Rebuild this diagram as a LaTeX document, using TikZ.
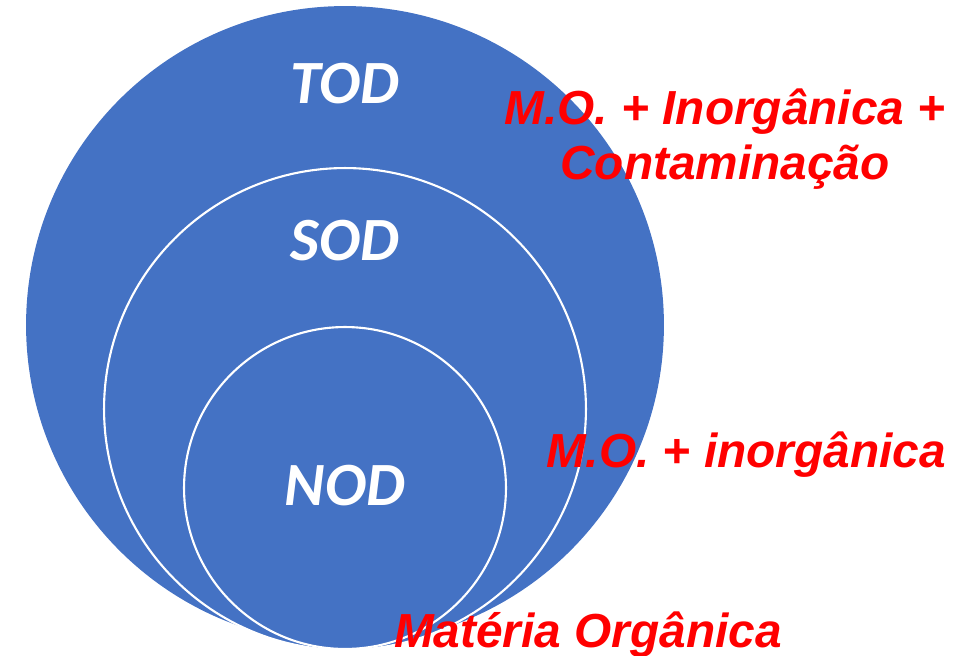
\documentclass[tikz,border=0pt]{standalone}
\usepackage{fontspec}
\setmainfont{Liberation Sans}
\newfontfamily\calibri{Carlito}
\usetikzlibrary{positioning}
\definecolor{dqoblue}{HTML}{4472C4}
\definecolor{dqored}{HTML}{FF0000}
\tikzstyle{disc} = [circle,
                    inner sep=0pt,
                    fill=dqoblue]
\tikzstyle{ring} = [circle,
                    inner sep=0pt,
                    fill=dqoblue,
                    draw=white,
                    line width=1.2pt]
\tikzstyle{tag} = [text=white,
                   anchor=base,
                   font=\calibri\bfseries\itshape\fontsize{35}{40}\selectfont]
\tikzstyle{note} = [text=dqored,
                    align=center,
                    inner sep=0pt,
                    font=\bfseries\itshape\fontsize{27.2}{31.5}\selectfont]

\begin{document}
\begin{tikzpicture}[x=0.02cm, y=-0.02cm]
  \useasboundingbox (0,0) rectangle (965,656);
  % circles
  \node [disc, minimum size=12.76cm] (tod) at (345,325) {};
  \node [ring, minimum size=9.64cm] (sod) at (345,409) {};
  \node [ring, minimum size=6.44cm] (nod) at (345,488) {};
  % names
  \node [tag] (todname) at (345,103) {TOD};
  \node [tag] (sodname) at (345,260) {SOD};
  \node [tag] (nodname) at (345,505) {NOD};
  % what each one measures
  \node [note, anchor=center] (todnote) at (725,139) {M.O. + Inorgânica +\\Contaminação};
  \node [note, anchor=base] (sodnote) at (746,467) {M.O. + inorgânica};
  \node [note, anchor=base] (nodnote) at (588,647) {Matéria Orgânica};
\end{tikzpicture}
\end{document}
